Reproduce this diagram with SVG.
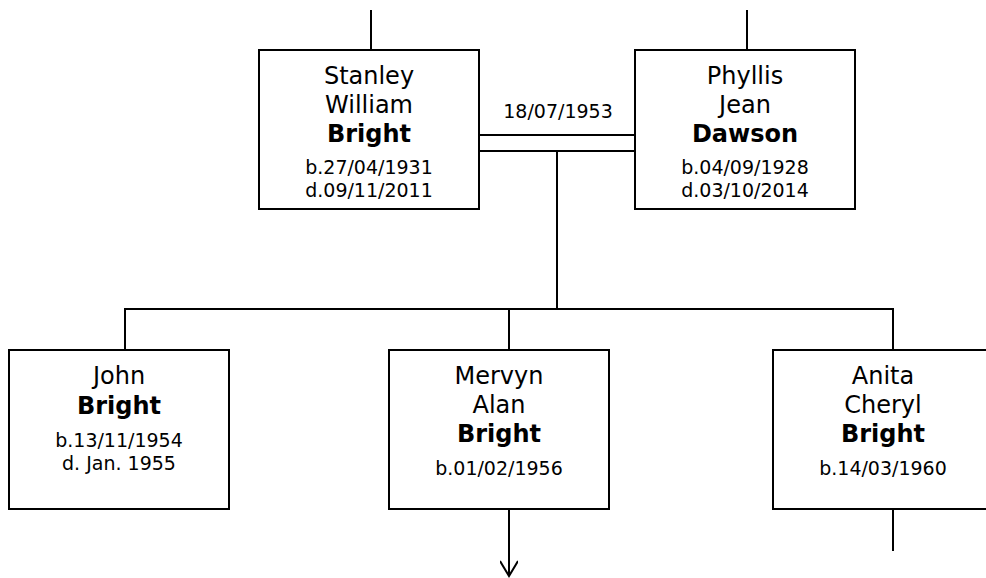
<svg xmlns="http://www.w3.org/2000/svg" width="986" height="578" viewBox="0 0 986 578">
<defs>
<style>
.box{fill:#fff;stroke:#000;stroke-width:2}
.ln{fill:none;stroke:#000;stroke-width:2}
text{font-family:"DejaVu Sans",Verdana,sans-serif;fill:#000;text-anchor:middle}
.n{font-size:24px}
.b{font-size:24px;font-weight:bold}
.s{font-size:19px}
</style>
<marker id="arr" viewBox="0 0 24 18" refX="22" refY="9" markerWidth="24" markerHeight="18" markerUnits="userSpaceOnUse" orient="auto">
<path d="M7,0 L22,9 L7,18" fill="none" stroke="#000" stroke-width="2"/>
</marker>
</defs>
<g id="connectors">
<line class="ln" x1="371" y1="10" x2="371" y2="50"/>
<line class="ln" x1="747" y1="10" x2="747" y2="50"/>
<line class="ln" x1="479" y1="135" x2="635" y2="135"/>
<line class="ln" x1="479" y1="151" x2="635" y2="151"/>
<line class="ln" x1="557" y1="151" x2="557" y2="309"/>
<line class="ln" x1="124" y1="309" x2="894" y2="309"/>
<line class="ln" x1="125" y1="309" x2="125" y2="350"/>
<line class="ln" x1="509" y1="309" x2="509" y2="350"/>
<line class="ln" x1="893" y1="309" x2="893" y2="350"/>
<line class="ln" x1="509" y1="509" x2="509" y2="576" marker-end="url(#arr)"/>
<line class="ln" x1="893" y1="509" x2="893" y2="551"/>
<text class="s" x="558" y="118">18/07/1953</text>
</g>
<g id="stanley">
<rect class="box" x="259" y="50" width="220" height="159"/>
<text class="n" x="369" y="84">Stanley</text>
<text class="n" x="369" y="113">William</text>
<text class="b" x="369" y="142">Bright</text>
<text class="s" x="369" y="174">b.27/04/1931</text>
<text class="s" x="369" y="197">d.09/11/2011</text>
</g>
<g id="phyllis">
<rect class="box" x="635" y="50" width="220" height="159"/>
<text class="n" x="745" y="84">Phyllis</text>
<text class="n" x="745" y="113">Jean</text>
<text class="b" x="745" y="142">Dawson</text>
<text class="s" x="745" y="174">b.04/09/1928</text>
<text class="s" x="745" y="197">d.03/10/2014</text>
</g>
<g id="john">
<rect class="box" x="9" y="350" width="220" height="159"/>
<text class="n" x="119" y="384">John</text>
<text class="b" x="119" y="414">Bright</text>
<text class="s" x="119" y="447">b.13/11/1954</text>
<text class="s" x="119" y="470">d. Jan. 1955</text>
</g>
<g id="mervyn">
<rect class="box" x="389" y="350" width="220" height="159"/>
<text class="n" x="499" y="384">Mervyn</text>
<text class="n" x="499" y="413">Alan</text>
<text class="b" x="499" y="442">Bright</text>
<text class="s" x="499" y="475">b.01/02/1956</text>
</g>
<g id="anita">
<rect class="box" x="773" y="350" width="220" height="159"/>
<text class="n" x="883" y="384">Anita</text>
<text class="n" x="883" y="413">Cheryl</text>
<text class="b" x="883" y="442">Bright</text>
<text class="s" x="883" y="475">b.14/03/1960</text>
</g>
</svg>
